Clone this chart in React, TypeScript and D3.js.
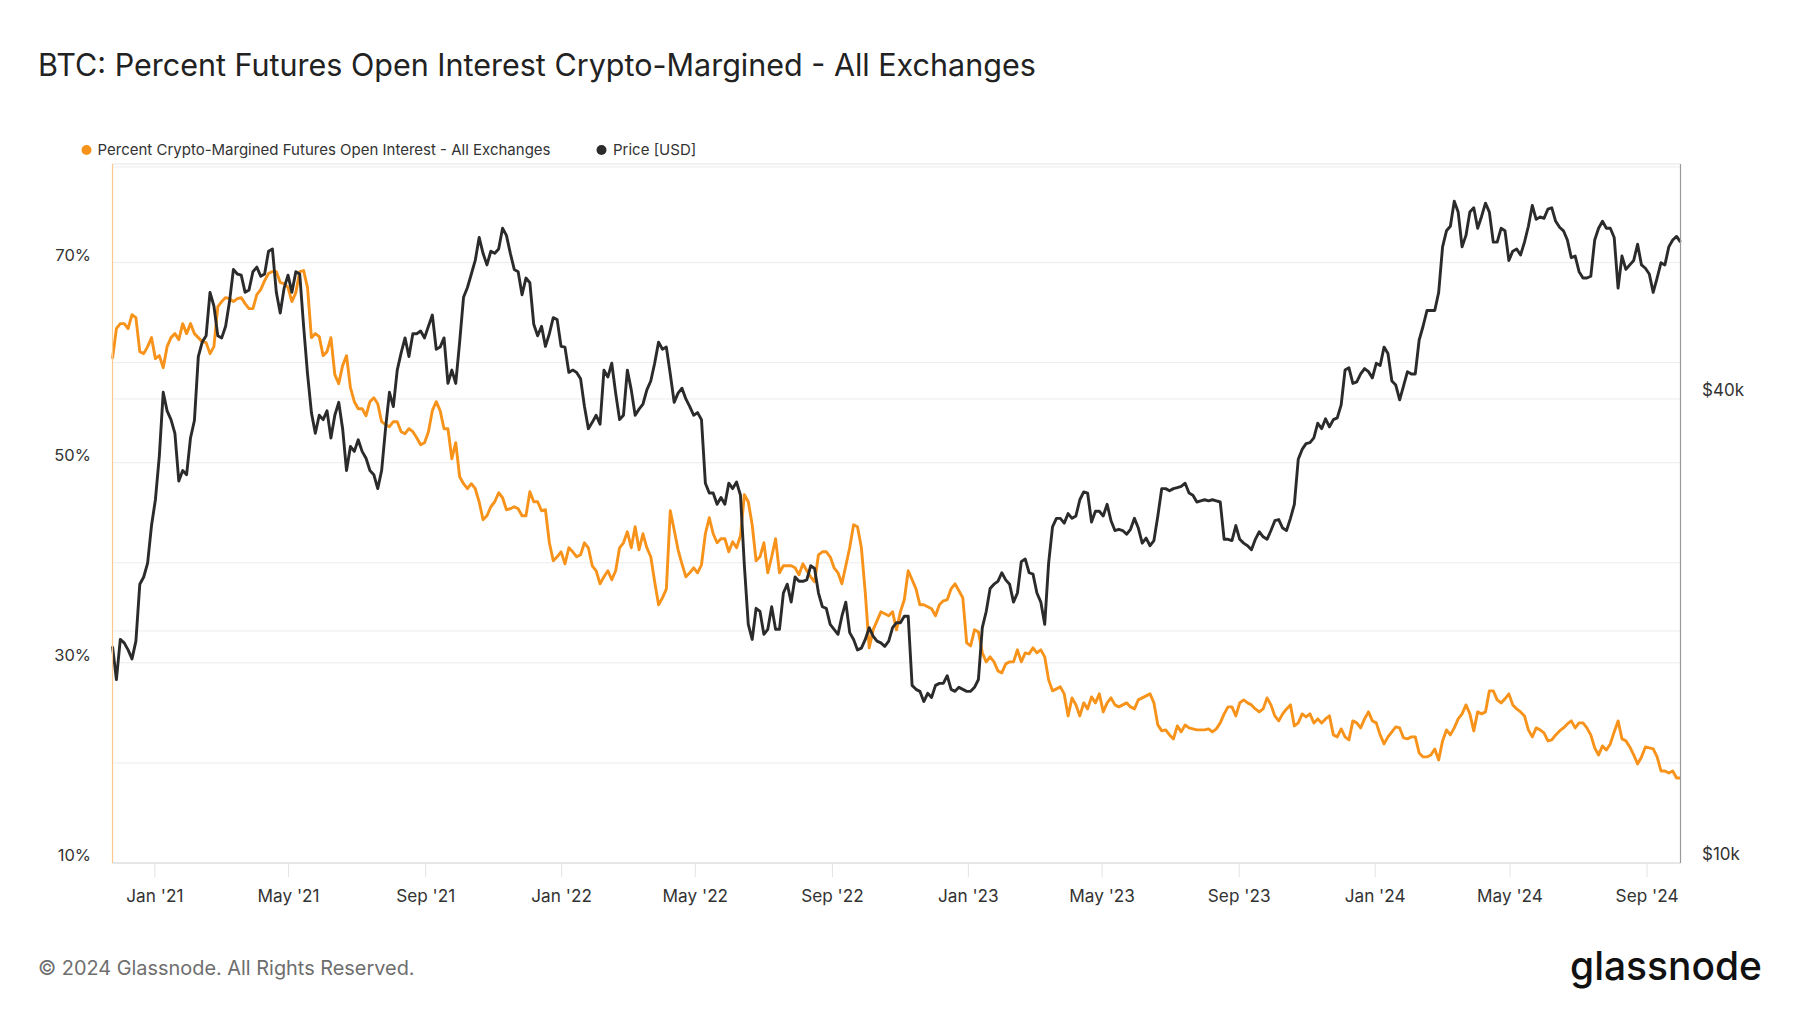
import React from 'react';
import * as d3 from 'd3';

// Samples every 3.5 days starting 2020-11-24 (UTC)
const START_UTC = Date.UTC(2020, 10, 24);
const END_UTC = Date.UTC(2024, 9, 1);
const STEP_HOURS = 84;

const pctCryptoMargined = [
  60.4, 63.4, 63.9, 63.9, 63.4, 64.8, 64.5, 61.1, 60.9, 61.6,
  62.5, 60.4, 60.7, 59.5, 61.6, 62.5, 62.9, 62.3, 63.9, 62.9,
  63.9, 62.9, 62.5, 62.1, 62.0, 60.9, 61.6, 65.6, 66.1, 66.5,
  66.4, 66.1, 66.4, 66.5, 65.9, 65.4, 65.4, 66.8, 67.3, 68.2,
  68.9, 69.1, 69.1, 68.0, 67.9, 67.5, 66.1, 67.0, 69.1, 69.2,
  67.5, 62.5, 62.9, 62.6, 60.7, 61.1, 62.5, 58.8, 57.9, 59.7,
  60.7, 57.5, 56.1, 55.4, 55.4, 54.7, 56.1, 56.5, 55.9, 54.1,
  53.8, 53.6, 54.1, 54.1, 53.1, 52.9, 53.4, 53.1, 52.5, 51.8,
  52.0, 53.1, 55.2, 56.1, 55.2, 53.4, 53.4, 50.4, 52.0, 48.6,
  47.9, 47.4, 47.9, 47.4, 46.1, 44.3, 44.7, 45.6, 46.1, 47.0,
  46.5, 45.3, 45.4, 45.6, 45.4, 44.7, 44.7, 47.1, 46.1, 46.1,
  45.2, 45.3, 42.0, 40.2, 40.6, 41.1, 39.9, 41.5, 41.1, 40.6,
  40.8, 42.0, 41.5, 39.7, 39.2, 37.9, 38.6, 39.2, 38.3, 39.2,
  41.5, 42.0, 43.1, 41.5, 43.6, 41.3, 42.9, 41.5, 40.6, 38.1,
  35.8, 36.5, 37.4, 45.2, 43.3, 41.3, 39.9, 38.6, 39.0, 39.5,
  39.0, 39.8, 42.9, 44.5, 42.9, 42.0, 42.4, 42.4, 41.1, 42.1,
  41.5, 42.7, 46.8, 46.1, 43.8, 40.2, 40.6, 42.0, 39.0, 40.6,
  42.4, 39.0, 39.7, 39.7, 39.7, 39.5, 38.8, 39.9, 39.2, 38.6,
  38.1, 40.8, 41.1, 41.1, 40.6, 39.5, 39.0, 37.9, 39.7, 41.5,
  43.8, 43.6, 41.5, 37.0, 31.5, 33.3, 34.2, 35.1, 34.9, 34.7,
  35.1, 33.3, 35.1, 36.3, 39.2, 38.3, 37.4, 35.8, 35.8, 35.6,
  35.4, 34.7, 35.8, 36.2, 36.3, 37.4, 37.9, 37.2, 36.5, 32.0,
  31.7, 33.3, 33.1, 31.0, 30.1, 30.6, 30.1, 29.2, 29.0, 29.9,
  30.1, 30.1, 31.3, 30.1, 31.0, 30.9, 31.5, 31.0, 31.3, 30.6,
  28.3, 27.2, 27.4, 27.6, 26.9, 24.7, 26.5, 25.8, 24.7, 26.0,
  25.4, 26.6, 26.0, 26.9, 25.1, 26.0, 26.5, 25.8, 25.6, 25.8,
  26.0, 25.6, 25.4, 26.3, 26.5, 26.7, 26.9, 26.0, 23.8, 23.2,
  23.3, 22.8, 22.4, 23.7, 23.1, 23.8, 23.5, 23.4, 23.3, 23.3,
  23.3, 23.4, 23.1, 23.4, 24.0, 24.9, 25.6, 25.6, 24.7, 26.0,
  26.3, 26.0, 25.8, 25.4, 25.1, 25.4, 26.5, 25.8, 24.7, 24.2,
  24.9, 25.4, 25.8, 23.7, 24.0, 24.9, 24.6, 24.9, 24.0, 24.4,
  24.0, 24.4, 24.7, 22.8, 22.6, 23.4, 22.6, 22.3, 24.2, 24.0,
  23.5, 24.4, 25.1, 24.2, 24.0, 22.8, 21.9, 22.6, 23.1, 23.6,
  23.5, 22.5, 22.4, 22.6, 22.6, 21.0, 20.6, 20.6, 20.8, 21.4,
  20.3, 22.2, 23.3, 22.8, 23.5, 24.4, 24.9, 25.8, 24.9, 23.2,
  25.1, 24.9, 25.1, 27.2, 27.2, 26.3, 26.0, 26.4, 26.9, 25.8,
  25.4, 25.1, 24.7, 23.3, 22.6, 23.5, 23.3, 23.0, 22.2, 22.3,
  22.8, 23.2, 23.5, 23.9, 24.2, 23.5, 24.0, 24.0, 23.5, 22.8,
  21.5, 20.8, 21.7, 21.3, 21.9, 23.1, 24.2, 22.4, 22.2, 21.6,
  20.8, 19.9, 20.6, 21.6, 21.5, 21.4, 20.6, 19.2, 19.2, 19.0,
  19.2, 18.5, 18.5,
];

// BTC price, thousands of USD
const priceUsdK = [
  19.1, 17.3, 19.5, 19.3, 18.9, 18.4, 19.4, 23.0, 23.5, 24.5,
  27.4, 29.6, 33.7, 40.8, 38.6, 37.6, 36.1, 31.3, 32.3, 31.9,
  35.6, 37.5, 45.4, 47.4, 48.3, 55.0, 52.8, 48.3, 48.0, 49.7,
  53.5, 58.9, 58.1, 57.9, 55.0, 55.4, 58.5, 59.3, 57.7, 58.1,
  62.2, 62.6, 55.0, 51.7, 55.7, 57.9, 55.0, 58.5, 58.1, 49.7,
  43.1, 38.4, 36.1, 38.1, 37.6, 38.6, 35.6, 38.1, 39.6, 36.6,
  32.3, 34.7, 34.2, 35.4, 34.2, 33.5, 32.3, 31.9, 30.6, 32.3,
  36.6, 40.8, 39.1, 43.6, 45.9, 48.0, 45.4, 48.6, 48.6, 49.0,
  48.0, 49.7, 51.4, 46.4, 46.7, 48.0, 41.9, 43.6, 41.9, 47.4,
  54.2, 55.8, 58.1, 60.5, 64.8, 61.8, 59.7, 62.2, 61.8, 62.6,
  66.6, 65.2, 61.8, 58.9, 58.5, 54.6, 57.4, 56.6, 50.0, 48.3,
  49.7, 46.8, 48.6, 51.0, 50.7, 46.8, 46.7, 43.3, 43.6, 43.3,
  42.5, 39.1, 36.6, 37.3, 38.1, 37.1, 43.6, 42.7, 44.5, 40.7,
  37.6, 38.1, 43.6, 41.1, 38.1, 38.8, 39.4, 41.1, 42.2, 44.5,
  47.4, 46.4, 46.7, 43.1, 39.6, 40.7, 41.3, 40.0, 39.1, 38.1,
  38.4, 37.6, 31.1, 30.2, 30.2, 29.2, 29.8, 29.2, 31.1, 30.6,
  31.2, 30.0, 24.3, 20.4, 19.5, 21.4, 21.2, 19.8, 20.1, 21.5,
  20.1, 20.1, 22.4, 23.0, 21.8, 23.5, 23.2, 23.2, 23.3, 24.3,
  24.1, 22.4, 21.5, 21.4, 20.4, 20.1, 19.8, 20.9, 21.8, 19.9,
  19.5, 18.9, 19.0, 19.5, 20.2, 19.7, 19.4, 19.3, 19.1, 19.4,
  20.2, 20.5, 20.5, 20.9, 20.9, 17.0, 16.8, 16.7, 16.2, 16.6,
  16.4, 17.0, 17.1, 17.1, 17.5, 16.8, 16.7, 16.9, 16.8, 16.7,
  16.7, 16.9, 17.3, 20.2, 21.2, 22.7, 23.0, 23.2, 23.8, 23.3,
  23.0, 21.8, 22.4, 24.6, 24.8, 23.8, 23.7, 22.4, 21.8, 20.4,
  24.5, 27.3, 28.0, 28.0, 27.6, 28.4, 28.0, 28.2, 29.6, 30.3,
  30.2, 27.7, 28.6, 28.6, 28.2, 29.2, 27.8, 27.0, 27.1, 27.0,
  26.7, 27.1, 28.0, 27.2, 26.0, 26.4, 25.8, 26.2, 28.2, 30.6,
  30.6, 30.4, 30.6, 30.7, 30.8, 31.1, 30.2, 30.0, 29.4, 29.5,
  29.6, 29.5, 29.6, 29.5, 29.4, 26.3, 26.3, 26.2, 27.4, 26.3,
  26.0, 25.8, 25.5, 26.3, 26.9, 26.5, 26.3, 27.0, 27.8, 27.9,
  27.2, 27.0, 28.0, 29.2, 33.4, 34.4, 35.0, 35.1, 35.6, 37.2,
  36.6, 37.7, 36.8, 37.6, 37.8, 39.3, 43.6, 43.9, 41.9, 42.1,
  43.1, 43.8, 43.4, 42.6, 44.5, 44.2, 46.7, 45.8, 42.2, 41.7,
  39.9, 41.6, 43.4, 43.1, 43.1, 47.7, 49.7, 52.1, 52.1, 52.1,
  55.0, 63.0, 66.1, 67.0, 72.2, 69.9, 63.0, 65.2, 69.9, 70.8,
  66.6, 69.0, 71.8, 69.9, 63.9, 63.9, 66.6, 66.1, 60.5, 62.2,
  62.6, 61.5, 63.9, 67.0, 71.3, 68.4, 68.9, 68.6, 70.5, 70.8,
  68.0, 66.8, 66.1, 64.3, 61.0, 61.3, 58.5, 57.4, 57.4, 57.7,
  64.3, 66.6, 68.0, 66.6, 66.6, 64.8, 55.7, 61.3, 58.9, 59.7,
  60.5, 63.5, 59.7, 59.1, 58.1, 55.0, 57.4, 60.1, 59.7, 63.0,
  64.3, 65.0, 63.9,
];

const xTickDates = [
  '2021-01-01', '2021-05-01', '2021-09-01',
  '2022-01-01', '2022-05-01', '2022-09-01',
  '2023-01-01', '2023-05-01', '2023-09-01',
  '2024-01-01', '2024-05-01', '2024-09-01',
];
const leftGrid = [10, 20, 30, 40, 50, 60, 70];
const leftTickLabels = [10, 30, 50, 70];
const rightGrid = [10, 20, 40, 80];
const rightTickLabels = [10, 40];

const TITLE = 'BTC: Percent Futures Open Interest Crypto-Margined - All Exchanges';
const SERIES_PCT = 'Percent Crypto-Margined Futures Open Interest - All Exchanges';
const SERIES_PRICE = 'Price [USD]';

const ORANGE = '#f7931a';
const DARK = '#2b2b2b';
const FONT = "Inter, 'Noto Sans', 'DejaVu Sans', sans-serif";

export default function App() {
  const W = 1800, H = 1013;
  const x0 = 112.5, x1 = 1680.5, y0 = 164, y1 = 863;

  const dates = pctCryptoMargined.map((_, i) => new Date(START_UTC + i * STEP_HOURS * 3600e3));

  const x = d3.scaleUtc().domain([new Date(START_UTC), new Date(END_UTC)]).range([x0, x1]);
  const yL = d3.scaleLinear().domain([10, 79.85]).range([y1, y0]);
  const yR = d3.scaleLog().domain([10, 80.7]).range([y1, y0]);

  const pctLine = d3.line<number>()
    .x((_, i) => x(dates[i]))
    .y((d) => yL(d));
  const priceLine = d3.line<number>()
    .x((_, i) => x(dates[i]))
    .y((d) => yR(d));

  const fmt = d3.utcFormat("%b '%y");
  const ticks = xTickDates.map((s) => new Date(s + 'T00:00:00Z'));

  return (
    <svg width={W} height={H} style={{ position: 'absolute', left: 0, top: 0, background: '#fff' }}
      fontFamily={FONT}>
      <rect x={0} y={0} width={W} height={H} fill="#fff" />
      <text x={38} y={76} fontSize={30.5} fill="#222">{TITLE}</text>

      {/* legend */}
      <circle cx={86.5} cy={150} r={5} fill={ORANGE} />
      <text x={97.5} y={155} fontSize={15} fill="#333">{SERIES_PCT}</text>
      <circle cx={601.5} cy={150} r={5} fill={DARK} />
      <text x={613} y={155} fontSize={15} fill="#333">{SERIES_PRICE}</text>

      {/* grid */}
      {leftGrid.map((v) => (
        <line key={'lg' + v} x1={x0} x2={x1} y1={yL(v)} y2={yL(v)} stroke="#ececec" strokeWidth={1} />
      ))}
      {rightGrid.map((v) => (
        <line key={'rg' + v} x1={x0} x2={x1} y1={yR(v)} y2={yR(v)} stroke="#ececec" strokeWidth={1} />
      ))}
      <line x1={x0} x2={x1} y1={y0} y2={y0} stroke="#e3e3e3" />
      <line x1={x0} x2={x1} y1={y1} y2={y1} stroke="#dcdcdc" />

      {/* x ticks */}
      {ticks.map((t, i) => (
        <g key={'xt' + i}>
          <line x1={x(t)} x2={x(t)} y1={y1} y2={y1 + 14} stroke="#e3e3e3" />
          <text x={x(t)} y={902} fontSize={17.2} fill="#333" textAnchor="middle">{fmt(t)}</text>
        </g>
      ))}

      {/* left labels */}
      {leftTickLabels.map((v) => (
        <text key={'ll' + v} x={91} y={yL(v) - 2} fontSize={16.5} fill="#333" textAnchor="end">{v}%</text>
      ))}
      {/* right labels */}
      {rightTickLabels.map((v) => (
        <text key={'rl' + v} x={1702} y={yR(v) - 3} fontSize={17} fill="#333">${v}k</text>
      ))}

      {/* series */}
      <path d={pctLine(pctCryptoMargined) || ''} fill="none" stroke={ORANGE} strokeWidth={2.9}
        strokeLinejoin="round" />
      <path d={priceLine(priceUsdK) || ''} fill="none" stroke={DARK} strokeWidth={2.9}
        strokeLinejoin="round" />

      {/* axis borders */}
      <line x1={x0} x2={x0} y1={y0} y2={y1} stroke="#fbc88c" strokeWidth={1.2} />
      <line x1={x1} x2={x1} y1={y0} y2={y1} stroke="#9a9a9a" strokeWidth={1.2} />

      {/* footer */}
      <text x={38} y={975} fontSize={19.9} fill="#6e6e6e">© 2024 Glassnode. All Rights Reserved.</text>
      <text x={1570} y={980} fontSize={40} fontWeight={500} fill="#111" textLength={192}
        lengthAdjust="spacingAndGlyphs">glassnode</text>
    </svg>
  );
}
